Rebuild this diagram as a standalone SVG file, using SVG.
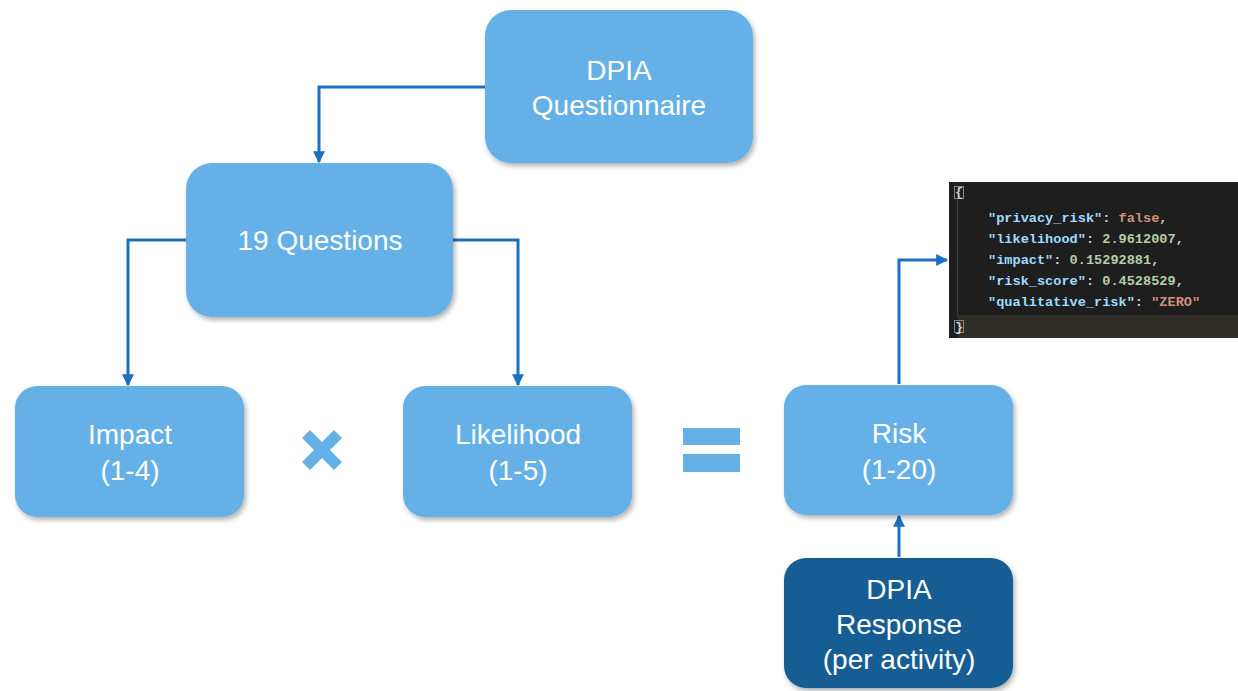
<svg xmlns="http://www.w3.org/2000/svg" width="1238" height="691" viewBox="0 0 1238 691">
  <defs>
    <filter id="shadow" x="-10%" y="-10%" width="125%" height="130%">
      <feDropShadow dx="2" dy="3" stdDeviation="2.5" flood-color="#000" flood-opacity="0.3"/>
    </filter>
    <marker id="arrow" viewBox="0 0 10 10" refX="9" refY="5" markerWidth="4" markerHeight="4" orient="auto-start-reverse" markerUnits="strokeWidth">
      <path d="M0,0 L10,5 L0,10 z" fill="#1a70c2"/>
    </marker>
    <style>
      .box { fill: #65b0e7; filter: url(#shadow); }
      .dark { fill: #185d93; filter: url(#shadow); }
      .label { font-family: "Liberation Sans", Arial, sans-serif; font-size: 28px; fill: #ffffff; text-anchor: middle; }
      .conn { fill: none; stroke: #1a70c2; stroke-width: 3; marker-end: url(#arrow); }
      .op { fill: #65b0e7; }
      .code { font-family: "Liberation Mono", "DejaVu Sans Mono", monospace; font-size: 13.6px; font-weight: bold; }
      .key { fill: #9cdcfe; }
      .num { fill: #b5cea8; }
      .str { fill: #ce9178; }
      .pun { fill: #d4d4d4; }
    </style>
  </defs>

  <rect width="1238" height="691" fill="#ffffff"/>

  <!-- connectors -->
  <g id="connectors">
    <path class="conn" d="M485,87 H319 V162"/>
    <path class="conn" d="M186,240 H128 V385"/>
    <path class="conn" d="M453,240 H518 V385"/>
    <path class="conn" d="M899,384 V260 H947"/>
    <path class="conn" d="M899,557 V516"/>
  </g>

  <g id="questionnaire">
    <rect class="box" x="485" y="10" width="268" height="153" rx="26"/>
    <text class="label" x="619" y="80">DPIA</text>
    <text class="label" x="619" y="115">Questionnaire</text>
  </g>

  <g id="questions">
    <rect class="box" x="186" y="163" width="267" height="154" rx="26"/>
    <text class="label" x="320" y="250">19 Questions</text>
  </g>

  <g id="impact">
    <rect class="box" x="15" y="386" width="229" height="131" rx="22"/>
    <text class="label" x="130" y="444">Impact</text>
    <text class="label" x="130" y="480">(1-4)</text>
  </g>

  <g id="times">
    <path class="op" d="M302,438 L310,430 L322,442 L334,430 L342,438 L330,450 L342,462 L334,470 L322,458 L310,470 L302,462 L314,450 z"/>
  </g>

  <g id="likelihood">
    <rect class="box" x="403" y="386" width="229" height="131" rx="22"/>
    <text class="label" x="518" y="444">Likelihood</text>
    <text class="label" x="518" y="480">(1-5)</text>
  </g>

  <g id="equals">
    <rect class="op" x="683" y="428" width="57" height="17"/>
    <rect class="op" x="683" y="454" width="57" height="18"/>
  </g>

  <g id="risk">
    <rect class="box" x="784" y="385" width="229" height="130" rx="22"/>
    <text class="label" x="899" y="443">Risk</text>
    <text class="label" x="899" y="479">(1-20)</text>
  </g>

  <g id="response">
    <rect class="dark" x="784" y="558" width="229" height="130" rx="22"/>
    <text class="label" x="899" y="599">DPIA</text>
    <text class="label" x="899" y="634">Response</text>
    <text class="label" x="899" y="669">(per activity)</text>
  </g>

  <g id="result">
    <rect x="949" y="182" width="289" height="156" fill="#1e1e1e"/>
    <rect x="958" y="315" width="280" height="23" fill="#2f2f27"/>
    <line x1="957.5" y1="198" x2="957.5" y2="317" stroke="#404040" stroke-width="1"/>
    <rect x="954.5" y="186.5" width="9" height="12" fill="none" stroke="#888" stroke-width="1"/>
    <rect x="954.5" y="320.5" width="9" height="12" fill="none" stroke="#888" stroke-width="1"/>
    <text class="code pun" x="955" y="196">{</text>
    <text class="code" x="988" y="222"><tspan class="key">"privacy_risk"</tspan><tspan class="pun">: </tspan><tspan class="str">false</tspan><tspan class="pun">,</tspan></text>
    <text class="code" x="988" y="243"><tspan class="key">"likelihood"</tspan><tspan class="pun">: </tspan><tspan class="num">2.9612007</tspan><tspan class="pun">,</tspan></text>
    <text class="code" x="988" y="264"><tspan class="key">"impact"</tspan><tspan class="pun">: </tspan><tspan class="num">0.15292881</tspan><tspan class="pun">,</tspan></text>
    <text class="code" x="988" y="285"><tspan class="key">"risk_score"</tspan><tspan class="pun">: </tspan><tspan class="num">0.4528529</tspan><tspan class="pun">,</tspan></text>
    <text class="code" x="988" y="306"><tspan class="key">"qualitative_risk"</tspan><tspan class="pun">: </tspan><tspan class="str">"ZERO"</tspan></text>
    <text class="code pun" x="955" y="331">}</text>
  </g>
</svg>
